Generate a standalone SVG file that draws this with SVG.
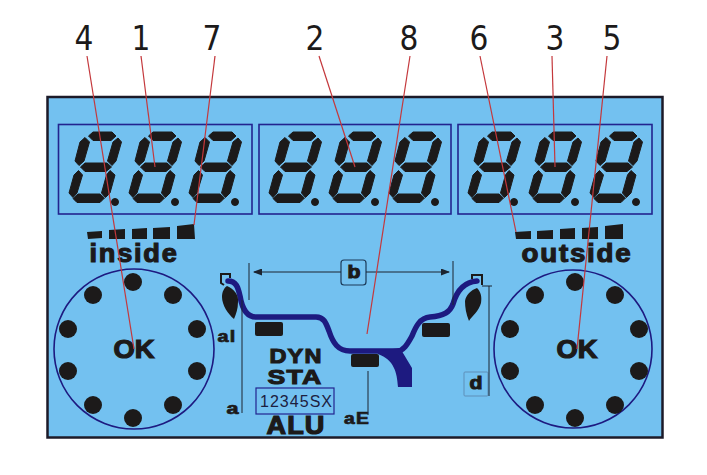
<svg xmlns="http://www.w3.org/2000/svg" width="707" height="475" viewBox="0 0 707 475">
<style>
.pnl{fill:none;stroke:#22248f;stroke-width:1.6}
.ink{fill:#1c1a1a}
.blk{font-family:"Liberation Sans",Arial,sans-serif;font-weight:700;fill:#1c1a1a;stroke:#1c1a1a;text-anchor:middle}
.num{font-family:"DejaVu Sans",sans-serif;font-stretch:condensed;font-size:33px;fill:#1c1a1a;text-anchor:middle}
.call{stroke:#c4383c;stroke-width:1.2;fill:none}
.dim{stroke:#1c2430;stroke-width:1;fill:none}
.wheel{fill:none;stroke:#1d1a80;stroke-width:1.6}
</style>
<defs>
<g id="digit" class="ink" stroke="#1c1a1a" stroke-width="1" stroke-linejoin="round">
<path d="M88.5,136L93,132H112L116,136L111,140.5H93Z"/>
<path d="M85,137.5L89.5,142L84,161L79,165.5L75,161L80,142Z"/>
<path d="M118,138L121.5,142L116,161L112,165.5L107.5,161L113,142Z"/>
<path d="M80.5,167L85,163H107L111.5,167L106,171.5H85Z"/>
<path d="M78.5,170.5L82.5,175L77,193L73,197.5L69,193L74,175Z"/>
<path d="M110,170.5L115,175L110,193L105.5,197.5L101.5,193L106.5,175Z"/>
<path d="M73,198.5L78,194H100L104.5,198L100,202.5H77Z"/>
<circle cx="115" cy="202" r="3.5"/>
</g>
<g id="bolts" class="ink">
<circle cx="133" cy="282" r="9"/><circle cx="93" cy="295" r="9"/><circle cx="173" cy="295" r="9"/>
<circle cx="68" cy="329" r="9"/><circle cx="197" cy="329" r="9"/><circle cx="68" cy="371" r="9"/>
<circle cx="197" cy="371" r="9"/><circle cx="93" cy="405" r="9"/><circle cx="173" cy="405" r="9"/>
<circle cx="133" cy="418" r="9"/>
</g>
<marker id="arr" markerWidth="9" markerHeight="7" refX="8" refY="3.5" orient="auto-start-reverse" markerUnits="userSpaceOnUse"><path d="M0,0L9,3.5L0,7Z" fill="#1c2430"/></marker>
</defs>
<rect width="707" height="475" fill="#fff"/>
<rect id="lcd" x="47.5" y="97" width="615" height="340.5" fill="#73c1f0" stroke="#1c1a28" stroke-width="2.5"/>

<g id="display-left">
<rect class="pnl" x="58.5" y="124.5" width="193.5" height="89.5"/>
<use href="#digit"/><use href="#digit" x="60"/><use href="#digit" x="120"/>
</g>
<g id="display-middle">
<rect class="pnl" x="259" y="124.5" width="192" height="89.5"/>
<use href="#digit" x="200"/><use href="#digit" x="260"/><use href="#digit" x="320"/>
</g>
<g id="display-right">
<rect class="pnl" x="458" y="124.5" width="194" height="89.5"/>
<use href="#digit" x="399"/><use href="#digit" x="460"/><use href="#digit" x="521"/>
</g>

<g id="inside-bar">
<path class="ink" d="M87,232L102,231V238L88,239Z M109,230L125,229V239H109Z M132,229L147,228V239H132Z M153,228L170,227V239H153Z M177,226L194,224L195,239H177Z"/>
<text class="blk" x="134" y="261.5" font-size="25" stroke-width="1.1" letter-spacing="1.6" textLength="89" lengthAdjust="spacingAndGlyphs">inside</text>
</g>
<g id="outside-bar">
<path class="ink" d="M515,232L531,231V239H516Z M537,231L553,230V239H537Z M560,229L575,228V239H560Z M582,228L598,227V239H582Z M605,226L623,224V239H605Z"/>
<text class="blk" x="577" y="261.5" font-size="25" stroke-width="1.1" letter-spacing="1.6" textLength="111" lengthAdjust="spacingAndGlyphs">outside</text>
</g>

<g id="wheel-left">
<circle class="wheel" cx="134" cy="349" r="80"/>
<use href="#bolts"/>
<text class="blk" x="134" y="358" font-size="25" stroke-width="1.2" textLength="41" lengthAdjust="spacingAndGlyphs">OK</text>
</g>
<g id="wheel-right">
<circle class="wheel" cx="573" cy="349" r="79"/>
<use href="#bolts" x="442"/>
<text class="blk" x="577" y="358" font-size="25" stroke-width="1.2" textLength="41" lengthAdjust="spacingAndGlyphs">OK</text>
</g>

<g id="rim">
<path d="M228,281C236,281 238,287 240,296C242,308 246,317 256,317H316C324,317 326,323 329,331C333,343 338,351 350,351H397C404,351 408,343 412,336C416,326 420,318 430,317C444,316 450,312 453,304C457,290 464,282 477,281" fill="none" stroke="#1d1a80" stroke-width="5.5" stroke-linecap="round"/>
<path d="M378,351L400,348L412,368L412,387H398C397,372 394,360 378,354Z" fill="#1d1a80"/>
<path class="ink" d="M227,286C234,289 239,295 238,302C238,309 236,314 234,319C228,314 222,305 222,297C222,292 224,288 227,286Z"/>
<path class="ink" d="M477,288C481,292 482,297 481,303C479,311 472,316 469,321C466,314 465,307 465,301C466,295 471,290 477,288Z"/>
<path d="M230,278V274H221V283L224,285" fill="none" stroke="#1c1a1a" stroke-width="2"/>
<path d="M472,279V275H482V285" fill="none" stroke="#1c1a1a" stroke-width="2"/>
<rect class="ink" x="255" y="322" width="28" height="14" rx="2"/>
<rect class="ink" x="422" y="323" width="28" height="14" rx="2"/>
<rect class="ink" x="351" y="354" width="28" height="13" rx="2"/>
</g>

<g id="labels">
<text class="blk" x="296" y="362.5" font-size="21" stroke-width="1.1" letter-spacing="1" textLength="53" lengthAdjust="spacingAndGlyphs">DYN</text>
<text class="blk" x="295" y="383.5" font-size="21" stroke-width="1.1" letter-spacing="1" textLength="55" lengthAdjust="spacingAndGlyphs">STA</text>
<rect x="256" y="388" width="78" height="26" fill="none" stroke="#22248f" stroke-width="1.2"/>
<text x="296" y="407" font-family="'Liberation Sans',Arial,sans-serif" font-size="16" fill="#1c2040" text-anchor="middle" textLength="72">12345SX</text>
<text class="blk" x="296" y="433.5" font-size="25" stroke-width="1.2" letter-spacing="1" textLength="59" lengthAdjust="spacingAndGlyphs">ALU</text>
<text class="blk" x="227" y="342" font-size="16" stroke-width=".7" letter-spacing="1" textLength="19" lengthAdjust="spacingAndGlyphs">al</text>
<text class="blk" x="232.500" y="414" font-size="16" stroke-width=".7" textLength="12" lengthAdjust="spacingAndGlyphs">a</text>
<text class="blk" x="357" y="424" font-size="16" stroke-width=".7" letter-spacing="1" textLength="26" lengthAdjust="spacingAndGlyphs">aE</text>
<rect x="341" y="260" width="25" height="25" rx="3" fill="none" stroke="#1c3a58" stroke-width="1.2"/>
<text class="blk" x="354" y="278" font-size="18" stroke-width="1" textLength="13" lengthAdjust="spacingAndGlyphs">b</text>
<rect x="464" y="372" width="24" height="24" rx="1" fill="none" stroke="#5f8fb8" stroke-width="1"/>
<text class="blk" x="476" y="389" font-size="18" stroke-width="1" textLength="13" lengthAdjust="spacingAndGlyphs">d</text>
</g>

<g id="connectors">
<path class="dim" d="M249,263V300M453,261V305M242,300V413M368,371V415M489,286V396M482,286H492"/>
<path class="dim" marker-start="url(#arr)" d="M254,272H341"/>
<path class="dim" marker-end="url(#arr)" d="M366,272H449"/>
<path class="call" d="M87,56L134,349"/>
<path class="call" d="M141,56L155,167"/>
<path class="call" d="M215,56L194,225"/>
<path class="call" d="M319,56L355,167"/>
<path class="call" d="M410,56L367,334"/>
<path class="call" d="M480,56L516,232"/>
<path class="call" d="M552,56L555,167"/>
<path class="call" d="M607,56L577,349"/>
</g>

<g id="callouts">
<text class="num" x="84" y="50">4</text>
<text class="num" x="141" y="50">1</text>
<text class="num" x="212" y="50">7</text>
<text class="num" x="315" y="50">2</text>
<text class="num" x="409" y="50">8</text>
<text class="num" x="479" y="50">6</text>
<text class="num" x="555" y="50">3</text>
<text class="num" x="612" y="50">5</text>
</g>
</svg>
